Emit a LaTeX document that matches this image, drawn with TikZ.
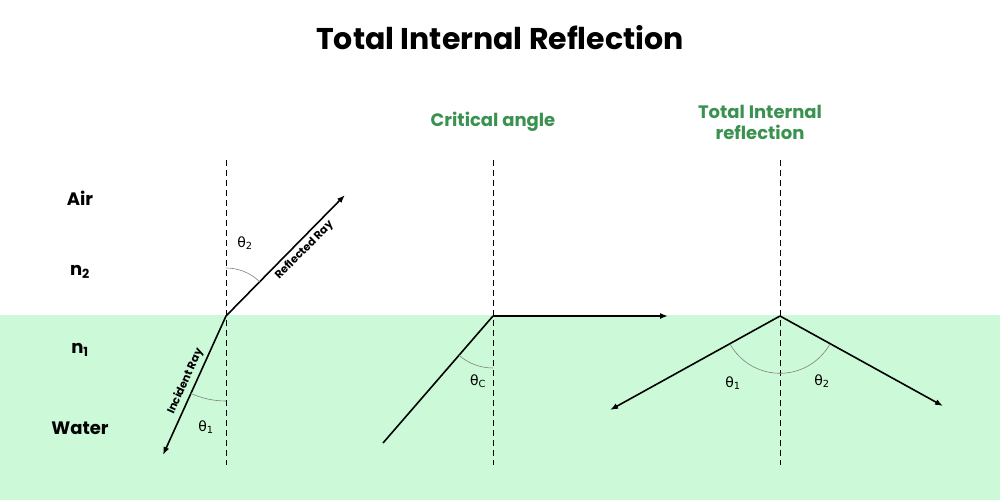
\documentclass[tikz,border=0pt]{standalone}
\usepackage{fontspec}
\setmainfont{Poppins}
\newfontfamily\thfont{DejaVu Sans}
\usetikzlibrary{arrows.meta,calc}
\definecolor{water}{HTML}{CCFAD8}
\definecolor{gr}{HTML}{3A9150}
\begin{document}
\begin{tikzpicture}[x=1pt,y=-1pt,
  ray/.style={line width=1.6pt,-{Latex[length=8pt,width=6pt]}},
  nrm/.style={line width=0.9pt,dash pattern=on 6pt off 4pt},
  ang/.style={gray,line width=0.6pt},
  lab/.style={font=\fontsize{18}{21}\selectfont\bfseries},
  glab/.style={font=\fontsize{18}{21}\selectfont\bfseries,text=gr,align=center},
  rl/.style={font=\fontsize{11}{13}\selectfont\bfseries},
  th/.style={font=\thfont\fontsize{14}{16}\selectfont}]
\useasboundingbox (0,0) rectangle (1000,500);
\fill[water] (0,315) rectangle (1000,500);
\node[font=\fontsize{30}{34}\selectfont\bfseries] (title) at (500,38) {Total Internal Reflection};
\node[lab] (air) at (80,198) {Air};
\node[lab] (n2) at (80,272) {n\textsubscript{2}};
\node[lab] (n1) at (80,350) {n\textsubscript{1}};
\node[lab] (wat) at (80,428) {Water};
% left
\coordinate (A) at (226,316);
\coordinate (Ai) at (163,455); \coordinate (Ar) at (345,195);
\draw[nrm] (226,160) -- (226,465);
\draw[line width=1.6pt,{Latex[length=8pt,width=6pt]}-] (Ai) -- (A) node[pos=0.5,sloped,above,rl] {Incident Ray};
\draw[ray] (A) -- (Ar) node[pos=0.6,sloped,below,rl] {Reflected Ray};
\draw[ang] ($(A)+(0,-48)$) arc[start angle=-90,end angle=-45.5,radius=48];
\draw[ang] ($(A)+(0,85)$) arc[start angle=90,end angle=114.4,radius=85];
\node[th] (t2) at (245,243) {θ\textsubscript{2}};
\node[th] (t1) at (206,427) {θ\textsubscript{1}};
% middle
\coordinate (B) at (493,316);
\draw[nrm] (493,160) -- (493,465);
\coordinate (Bi) at (383,443); \coordinate (Bo) at (668,316);
\draw[line width=1.6pt] (B) -- (Bi);
\draw[ray] (B) -- (Bo);
\draw[ang] ($(B)+(0,52)$) arc[start angle=90,end angle=130.9,radius=52];
\node[th] (tc) at (478,381) {θ\textsubscript{C}};
\node[glab] (crit) at (493,122) {Critical angle};
% right
\coordinate (C) at (780,316);
\draw[nrm] (780,160) -- (780,465);
\coordinate (Cl) at (610,410); \coordinate (Cr) at (943,406);
\draw[ray] (C) -- (Cl);
\draw[ray] (C) -- (Cr);
\draw[ang] ($(C)+(-50.2,27.7)$) arc[start angle=151.1,end angle=28.9,radius=57.3];
\node[th] (r1) at (733,383) {θ\textsubscript{1}};
\node[th] (r2) at (822,381) {θ\textsubscript{2}};
\node[glab] (tir) at (760,122) {Total Internal\\reflection};
\end{tikzpicture}
\end{document}
